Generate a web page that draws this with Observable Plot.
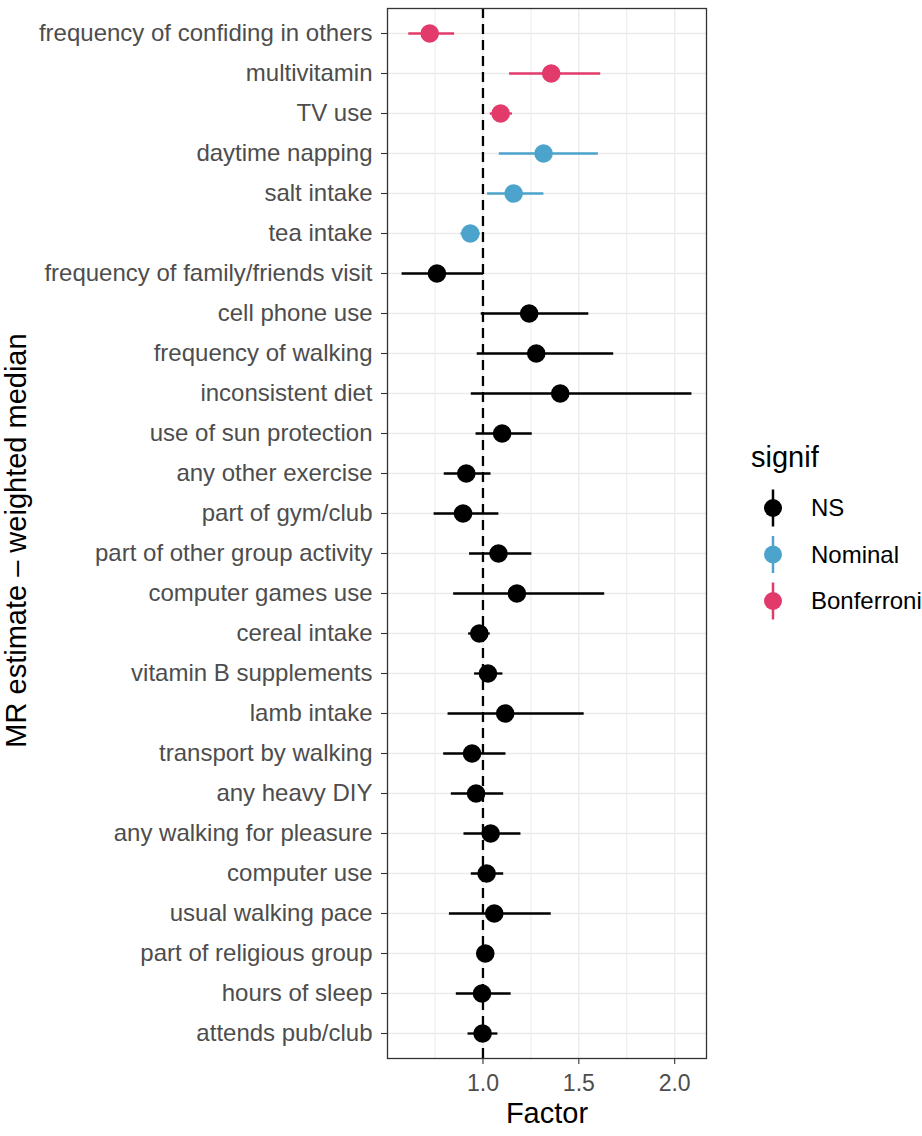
<!DOCTYPE html>
<html>
<head>
<meta charset="utf-8">
<script src="https://cdn.jsdelivr.net/npm/d3@7"></script>
<script src="https://cdn.jsdelivr.net/npm/@observablehq/plot@0.6"></script>
<style>
  body { margin: 0; background: #fff; }
  #chart { width: 922px; height: 1136px; overflow: hidden; }
</style>
</head>
<body>
<div id="chart"></div>
<script>
const exposures = [
  "frequency of confiding in others",
  "multivitamin",
  "TV use",
  "daytime napping",
  "salt intake",
  "tea intake",
  "frequency of family/friends visit",
  "cell phone use",
  "frequency of walking",
  "inconsistent diet",
  "use of sun protection",
  "any other exercise",
  "part of gym/club",
  "part of other group activity",
  "computer games use",
  "cereal intake",
  "vitamin B supplements",
  "lamb intake",
  "transport by walking",
  "any heavy DIY",
  "any walking for pleasure",
  "computer use",
  "usual walking pace",
  "part of religious group",
  "hours of sleep",
  "attends pub/club"
];
const estimate = [0.722, 1.356, 1.092, 1.316, 1.160, 0.934, 0.760, 1.241, 1.278, 1.403, 1.100, 0.913, 0.896, 1.081, 1.177, 0.981, 1.026, 1.116, 0.943, 0.964, 1.040, 1.019, 1.059, 1.012, 0.995, 0.998];
const ciLower  = [0.613, 1.139, 1.038, 1.085, 1.024, 0.885, 0.578, 0.991, 0.970, 0.939, 0.964, 0.798, 0.745, 0.930, 0.847, 0.925, 0.956, 0.818, 0.795, 0.835, 0.901, 0.939, 0.825, 0.969, 0.861, 0.922];
const ciUpper  = [0.852, 1.614, 1.154, 1.602, 1.318, 0.986, 1.003, 1.552, 1.682, 2.090, 1.257, 1.042, 1.083, 1.255, 1.635, 1.038, 1.104, 1.528, 1.120, 1.108, 1.198, 1.108, 1.356, 1.060, 1.147, 1.078];
const signif   = ["Bonferroni", "Bonferroni", "Bonferroni", "Nominal", "Nominal", "Nominal",
                  "NS", "NS", "NS", "NS", "NS", "NS", "NS", "NS", "NS", "NS", "NS", "NS", "NS", "NS", "NS", "NS", "NS", "NS", "NS", "NS"];
const signifLevels = ["NS", "Nominal", "Bonferroni"];
const signifColors = ["#000000", "#4CA3CC", "#E23A6B"];
const xTicks = [1.0, 1.5, 2.0];
const xMinor = [0.75, 1.25, 1.75];
const xTitle = "Factor";
const yTitle = "MR estimate \u2013 weighted median";
const legendTitle = "signif";

const rows = exposures.map((e, i) => ({exposure: e, est: estimate[i], lo: ciLower[i], hi: ciUpper[i], signif: signif[i]}));
const font = '"Liberation Sans", Arial, Helvetica, sans-serif';

const plot = Plot.plot({
  width: 922,
  height: 1136,
  marginLeft: 387,
  marginRight: 216,
  marginTop: 8,
  marginBottom: 78,
  style: {fontFamily: font, background: "white", overflow: "hidden"},
  x: {domain: [0.502, 2.166], label: null},
  y: {type: "point", domain: exposures, padding: 0.6, label: null},
  color: {domain: signifLevels, range: signifColors},
  marks: [
    Plot.gridX(xMinor, {stroke: "#EBEBEB", strokeOpacity: 1, strokeWidth: 1.0}),
    Plot.gridX(xTicks, {stroke: "#EBEBEB", strokeOpacity: 1, strokeWidth: 1.4}),
    Plot.gridY(exposures, {stroke: "#EBEBEB", strokeOpacity: 1, strokeWidth: 1.4}),
    Plot.ruleX([1], {stroke: "black", strokeWidth: 2.3, strokeDasharray: "10,6"}),
    Plot.ruleY(rows, {y: "exposure", x1: "lo", x2: "hi", stroke: "signif", strokeWidth: 2.3}),
    Plot.dot(rows, {x: "est", y: "exposure", fill: "signif", r: 9.3}),
    Plot.frame({stroke: "#333333", strokeWidth: 1.3}),
    Plot.axisY({tickSize: 6, tickPadding: 9, fontSize: 24, stroke: "#333333", strokeWidth: 1.1, fill: "#4D4D4D", label: null}),
    Plot.axisX(xTicks, {tickSize: 6, tickPadding: 10, fontSize: 23, tickFormat: d3.format(".1f"), stroke: "#333333", strokeWidth: 1.1, fill: "#4D4D4D", label: null}),
    Plot.text([xTitle], {frameAnchor: "bottom", dy: 55, fontSize: 29, fill: "black", lineAnchor: "middle"}),
    Plot.text([yTitle], {frameAnchor: "left", dx: -371, dy: 7, rotate: -90, textAnchor: "middle", fontSize: 29, fill: "black", lineAnchor: "middle"})
  ]
});

// legend (ggplot-style pointrange keys)
const svg = d3.select(plot);
const lg = svg.append("g").attr("font-family", font).attr("text-anchor", "start");
lg.append("text").attr("x", 751).attr("y", 467).attr("font-size", 29).attr("fill", "black").text(legendTitle);
signifLevels.forEach((lvl, i) => {
  const cy = 508 + i * 46.5;
  const col = signifColors[i];
  lg.append("line").attr("x1", 773).attr("x2", 773).attr("y1", cy - 18.5).attr("y2", cy + 18.5)
    .attr("stroke", col).attr("stroke-width", 2.5);
  lg.append("circle").attr("cx", 773).attr("cy", cy).attr("r", 9).attr("fill", col);
  lg.append("text").attr("x", 811).attr("y", cy).attr("dy", "0.35em").attr("font-size", 24).attr("fill", "black").text(lvl);
});

document.getElementById("chart").appendChild(plot);
</script>
</body>
</html>
